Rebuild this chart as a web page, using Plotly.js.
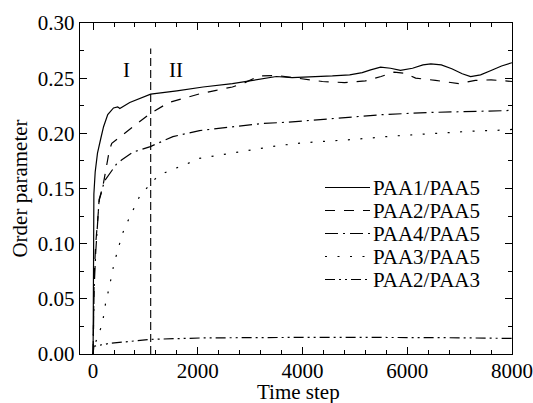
<!DOCTYPE html>
<html>
<head>
<meta charset="utf-8">
<script src="https://cdn.plot.ly/plotly-3.0.1.min.js"></script>
<style>html,body{margin:0;padding:0;background:#fff;}#chart{width:533px;height:403px;}</style>
</head>
<body>
<div id="chart"></div>
<script>
// ---- data ----
const seriesNames = ["PAA1/PAA5", "PAA2/PAA5", "PAA4/PAA5", "PAA3/PAA5", "PAA2/PAA3"];

const x_paa1_paa5 = [0, 5, 15, 40, 84, 150, 200, 280, 390, 470, 510, 700, 900, 1100, 1600, 2100, 2660, 3080, 3500, 3800, 4130, 4570, 4900, 5140, 5300, 5490, 5680, 5870, 6100, 6300, 6450, 6650, 6850, 7050, 7210, 7400, 7600, 7800, 8000];
const y_paa1_paa5 = [0, 0.100, 0.145, 0.165, 0.182, 0.196, 0.206, 0.217, 0.223, 0.224, 0.2225, 0.228, 0.232, 0.2355, 0.2385, 0.242, 0.245, 0.248, 0.2515, 0.2505, 0.251, 0.252, 0.253, 0.255, 0.2575, 0.2600, 0.2590, 0.2570, 0.2590, 0.2620, 0.2630, 0.2620, 0.2585, 0.2540, 0.2515, 0.2530, 0.2570, 0.2610, 0.2640];

const x_paa2_paa5 = [0, 20, 50, 85, 120, 180, 220, 274, 312, 357, 440, 600, 800, 1090, 1450, 1800, 2050, 2350, 2660, 2900, 3175, 3500, 3900, 4380, 4800, 5200, 5500, 5750, 5950, 6160, 6540, 6990, 7300, 7600, 8000];
const y_paa2_paa5 = [0, 0.070, 0.100, 0.119, 0.140, 0.150, 0.161, 0.178, 0.185, 0.191, 0.194, 0.200, 0.207, 0.218, 0.228, 0.233, 0.236, 0.239, 0.242, 0.246, 0.252, 0.2525, 0.250, 0.247, 0.246, 0.2475, 0.2515, 0.2555, 0.2545, 0.250, 0.248, 0.245, 0.248, 0.2485, 0.247];

const x_paa4_paa5 = [0, 20, 50, 115, 220, 340, 445, 550, 763, 1093, 1524, 2033, 2540, 3240, 3684, 4224, 4700, 5080, 5525, 6477, 7110, 7840, 8000];
const y_paa4_paa5 = [0, 0.060, 0.092, 0.140, 0.157, 0.165, 0.172, 0.176, 0.183, 0.188, 0.197, 0.2025, 0.2055, 0.209, 0.210, 0.212, 0.2135, 0.2148, 0.217, 0.219, 0.2195, 0.2205, 0.221];

const x_paa3_paa5 = [0, 51, 115, 179, 242, 305, 400, 464, 560, 655, 760, 884, 1074, 1232, 1486, 1741, 1995, 2636, 3113, 3557, 4033, 4510, 4985, 5717, 6477, 7240, 7875, 8000];
const y_paa3_paa5 = [0, 0.011, 0.019, 0.028, 0.047, 0.0595, 0.082, 0.0927, 0.109, 0.1195, 0.130, 0.1425, 0.153, 0.161, 0.167, 0.171, 0.177, 0.182, 0.186, 0.189, 0.1915, 0.193, 0.1945, 0.1975, 0.200, 0.202, 0.203, 0.2035];

const x_paa2_paa3 = [0, 15, 300, 700, 1100, 2120, 3000, 4150, 5000, 6050, 7000, 7840, 8000];
const y_paa2_paa3 = [0, 0.0070, 0.0095, 0.0115, 0.0133, 0.0146, 0.0150, 0.0151, 0.0151, 0.0151, 0.0147, 0.0142, 0.0141];

const stageBoundary = 1100;      // vertical dashed divider (time step)
const stageBoundaryTop = 0.277;  // top of the divider (order parameter)
const stageLabels = ["I", "II"];
const stageLabelX = [640, 1590];
const stageLabelY = 0.257;

const xTitle = "Time step";
const yTitle = "Order parameter";

// ---- styling ----
const FONT = "'Liberation Serif', 'Times New Roman', Times, serif";
const dashes = ["solid", "10px,9px", "13px,5px,2px,5px", "2px,10.5px", "10px,4px,2px,4px,2px,4px"];
const LW = 1.2;

const xs = [x_paa1_paa5, x_paa2_paa5, x_paa4_paa5, x_paa3_paa5, x_paa2_paa3];
const ys = [y_paa1_paa5, y_paa2_paa5, y_paa4_paa5, y_paa3_paa5, y_paa2_paa3];

const traces = seriesNames.map((n, i) => ({
  x: xs[i], y: ys[i], name: n, type: "scatter", mode: "lines",
  line: {color: "#000", width: LW, dash: dashes[i]},
  showlegend: false, hoverinfo: "skip"
}));

// custom legend (paper coordinates)
const legX0 = (325 - 80) / 432, legX1 = (370 - 80) / 432, legTextX = (371 - 80) / 432;
const legRows = seriesNames.map((n, i) => (354 - (187.5 + 23 * i)) / 331);

const shapes = [{
  type: "line", xref: "x", yref: "y",
  x0: stageBoundary, x1: stageBoundary, y0: 0, y1: stageBoundaryTop,
  line: {color: "#000", width: 1.1, dash: "8px,4px"}
}];
seriesNames.forEach((n, i) => shapes.push({
  type: "line", xref: "paper", yref: "paper",
  x0: legX0, x1: legX1, y0: legRows[i], y1: legRows[i],
  line: {color: "#000", width: LW, dash: dashes[i]}
}));

const annotations = stageLabels.map((t, i) => ({
  text: t, x: stageLabelX[i], y: stageLabelY, xref: "x", yref: "y",
  showarrow: false, font: {family: FONT, size: 21, color: "#000"}
}));
seriesNames.forEach((n, i) => annotations.push({
  text: n, x: legTextX, y: legRows[i], xref: "paper", yref: "paper",
  xanchor: "left", yanchor: "middle", showarrow: false,
  font: {family: FONT, size: 21, color: "#000"}
}));
// x-axis title placed as an annotation (margin too tight for axis title standoff)
annotations.push({
  text: xTitle, x: (298 - 80) / 432, y: (354 - 392) / 331, xref: "paper", yref: "paper",
  xanchor: "center", yanchor: "middle", showarrow: false,
  font: {family: FONT, size: 21, color: "#000"}
});

const axisCommon = {
  showgrid: false, zeroline: false, showline: true, linecolor: "#000", linewidth: 1.2,
  mirror: "allticks", ticks: "inside", ticklen: 7, tickwidth: 1, tickcolor: "#000",
  tickfont: {family: FONT, size: 21, color: "#000"}
};

const layout = {
  width: 533, height: 403,
  margin: {l: 80, r: 21, t: 23, b: 49},
  paper_bgcolor: "#fff", plot_bgcolor: "#fff",
  font: {family: FONT, color: "#000"},
  xaxis: Object.assign({}, axisCommon, {
    range: [-250, 8000], tickvals: [0, 2000, 4000, 6000, 8000],
    ticklabelstandoff: -2,
    minor: {dtick: 400, tick0: 0, ticks: "inside", ticklen: 4, tickcolor: "#000", tickwidth: 1}
  }),
  yaxis: Object.assign({}, axisCommon, {
    range: [0, 0.30], dtick: 0.05, tickformat: ".2f",
    minor: {dtick: 0.025, tick0: 0, ticks: "inside", ticklen: 4, tickcolor: "#000", tickwidth: 1},
    title: {text: yTitle, font: {family: FONT, size: 21, color: "#000"}, standoff: 4}
  }),
  shapes: shapes,
  annotations: annotations,
  showlegend: false
};

Plotly.newPlot("chart", traces, layout, {staticPlot: true});
</script>
</body>
</html>
